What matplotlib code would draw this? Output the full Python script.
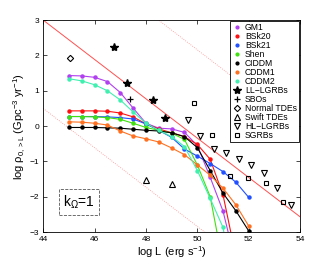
import matplotlib
matplotlib.use('Agg')
import matplotlib.pyplot as plt
import numpy as np

plt.rcParams['font.family'] = ['Liberation Sans', 'DejaVu Sans']
plt.rcParams['mathtext.fontset'] = 'custom'
plt.rcParams['mathtext.rm'] = 'Liberation Sans'
plt.rcParams['mathtext.it'] = 'Liberation Sans'

# EoS model curves (log L, log rho)
logL = [45, 45.5, 46, 46.5, 47, 47.5, 48, 48.5, 49, 49.5, 50, 50.5, 51, 51.5, 52]
gm1   = [1.43, 1.42, 1.38, 1.26, 0.95, 0.51, 0.08, -0.06, -0.08, -0.18, -0.55, -1.45, -2.41, -3.9]
bsk20 = [0.43, 0.43, 0.43, 0.42, 0.37, 0.26, 0.06, -0.08, -0.19, -0.30, -0.52, -0.94, -1.95, -3.7]
bsk21 = [0.27, 0.27, 0.27, 0.26, 0.24, 0.20, 0.06, -0.12, -0.32, -0.65, -0.85, -1.06, -1.29, -1.59, -2.02]
shen  = [0.27, 0.27, 0.26, 0.24, 0.19, 0.08, -0.04, -0.12, -0.20, -0.38, -1.10, -2.00, -3.9]
ciddm = [-0.04, -0.04, -0.04, -0.05, -0.06, -0.09, -0.12, -0.14, -0.19, -0.30, -0.61, -1.26, -1.90, -2.40, -2.97]
cddm1 = [0.12, 0.11, 0.08, 0.03, -0.14, -0.28, -0.36, -0.45, -0.62, -0.81, -1.10, -1.39, -1.76, -2.23, -2.83]
cddm2 = [1.34, 1.28, 1.17, 1.00, 0.74, 0.40, 0.08, -0.12, -0.30, -0.58, -1.26, -2.05, -2.87, -5.0]

models = [('GM1', gm1, '#b040f0'), ('BSk20', bsk20, '#ff1010'), ('BSk21', bsk21, '#2050ff'),
          ('Shen', shen, '#40e010'), ('CIDDM', ciddm, 'k'), ('CDDM1', cddm1, '#ff7020'),
          ('CDDM2', cddm2, '#40f0b0')]

# observed rates
ll_x = [46.76, 47.27, 48.26, 48.76]; ll_y = [2.23, 1.21, 0.74, 0.23]
sbo_x = [47.37]; sbo_y = [0.78]
ntde_x = [45.03]; ntde_y = [1.92]
stde_x = [48.01, 49.0]; stde_y = [-1.53, -1.64]
hl_x = [49.65, 50.11, 50.63, 51.12, 51.61, 52.09, 52.6, 53.11, 53.63]
hl_y = [0.17, -0.28, -0.66, -0.77, -0.93, -1.10, -1.34, -1.74, -2.23]
sg_x = [49.86, 50.56, 51.28, 51.96, 52.67, 53.34]
sg_y = [0.64, -0.24, -1.42, -1.46, -1.62, -2.16]

# reference lines
ref_x = [44, 54]
ref_y = [3.0, -2.57]
ref_shift = 2.5

fig = plt.figure(figsize=(3.32, 2.61), dpi=100)
ax = fig.add_axes([0.13, 0.111, 0.774, 0.812])

ax.plot(ref_x, ref_y, color='#ff5050', lw=0.7)
ax.plot(ref_x, [v + ref_shift for v in ref_y], color='#ff9090', lw=0.6, ls=':')
ax.plot(ref_x, [v - ref_shift for v in ref_y], color='#ff9090', lw=0.6, ls=':')

handles = []
for name, vals, c in models:
    ax.plot(logL[:len(vals)], vals, color=c, lw=0.8, marker='o', ms=2.2, mec=c, mfc=c)
    h, = ax.plot([], [], ls='none', marker='o', ms=2, color=c, label=name)
    handles.append(h)

mk = dict(ls='none', color='k', mfc='none', mew=0.8, ms=4)
handles.append(ax.plot(ll_x, ll_y, ls='none', marker='*', color='k', ms=6, label='LL\u2212LGRBs')[0])
handles.append(ax.plot(sbo_x, sbo_y, ls='none', marker='+', color='k', ms=4, mew=0.9, label='SBOs')[0])
handles.append(ax.plot(ntde_x, ntde_y, marker='D', label='Normal TDEs', ls='none', color='k',
                       mfc='none', mew=0.8, ms=3.2)[0])
handles.append(ax.plot(stde_x, stde_y, marker='^', label='Swift TDEs', **mk)[0])
handles.append(ax.plot(hl_x, hl_y, marker='v', label='HL\u2212LGRBs', **mk)[0])
handles.append(ax.plot(sg_x, sg_y, marker='s', label='SGRBs', ls='none', color='k', mfc='none', mew=0.8, ms=3.2)[0])

leg = ax.legend(handles=handles, loc='upper right', fontsize=6.2, labelspacing=0.0,
                handlelength=1.0, handletextpad=0.5, borderpad=0.25, borderaxespad=0.1,
                fancybox=False, framealpha=1)
leg.get_frame().set_edgecolor('k')
leg.get_frame().set_linewidth(0.6)

ax.text(45.38, -2.15, r'k$_\Omega$=1', fontsize=10, ha='center', va='center',
        bbox=dict(boxstyle='square,pad=0.3', fc='none', ec='#555555', ls='--', lw=0.6))

ax.set_xlim(44, 54)
ax.set_ylim(-3, 3)
ax.set_xticks([44, 46, 48, 50, 52, 54])
ax.set_yticks([-3, -2, -1, 0, 1, 2, 3])
ax.tick_params(direction='in', top=True, right=True, labelsize=6, length=3, width=0.5, pad=3)
for s in ax.spines.values():
    s.set_linewidth(0.6)
ax.set_xlabel(r'log L (erg s$^{-1}$)', fontsize=8, labelpad=1)
ax.set_ylabel(r'log $\rho_{0,>L}$ (Gpc$^{-3}$ yr$^{-1}$)', fontsize=8, labelpad=1)

fig.savefig('out.png', dpi=100)
